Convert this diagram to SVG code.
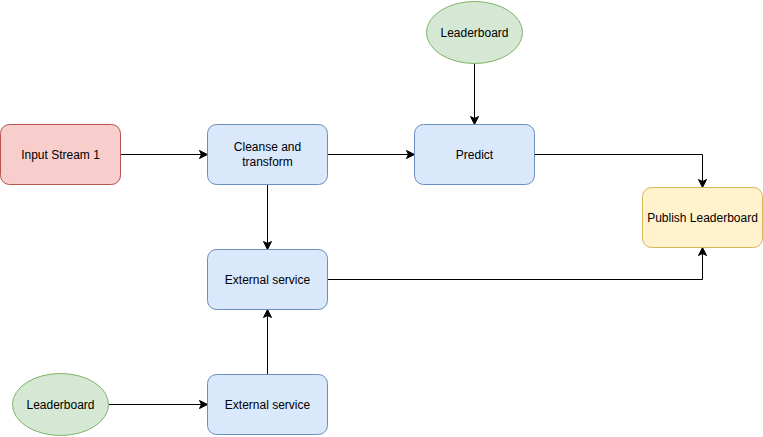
<svg xmlns="http://www.w3.org/2000/svg" width="763" height="437" viewBox="0 0 763 437">
<style>
.blue{fill:#dae8fc;stroke:#6c8ebf;stroke-width:1}
.red{fill:#f8cecc;stroke:#b85450;stroke-width:1}
.yel{fill:#fff2cc;stroke:#d6b656;stroke-width:1}
.grn{fill:#d5e8d4;stroke:#82b366;stroke-width:1}
text{font-family:"Liberation Sans",Arial,sans-serif;font-size:12px;fill:#000;text-anchor:middle;dominant-baseline:central}
.edge{fill:none;stroke:#000;stroke-width:1}
</style>
<defs>
<marker id="arr" viewBox="0 0 10 10" refX="9" refY="5" markerWidth="10" markerHeight="10" markerUnits="userSpaceOnUse" orient="auto">
<path d="M1,1 L9,5 L1,9 L3,5 Z" fill="#000" stroke="#000" stroke-width="1"/>
</marker>
</defs>
<rect width="763" height="437" fill="#fff"/>
<g id="connectors">
<path class="edge" d="M120.5,154.5 L207.5,154.5" marker-end="url(#arr)"/>
<path class="edge" d="M327.5,154.5 L414.5,154.5" marker-end="url(#arr)"/>
<path class="edge" d="M474.5,63.5 L474.5,124.5" marker-end="url(#arr)"/>
<path class="edge" d="M534.5,154.5 L702.5,154.5 L702.5,187.5" marker-end="url(#arr)"/>
<path class="edge" d="M267.5,184.5 L267.5,249.5" marker-end="url(#arr)"/>
<path class="edge" d="M327.5,279.5 L702.5,279.5 L702.5,247.5" marker-end="url(#arr)"/>
<path class="edge" d="M267.5,374.5 L267.5,309.5" marker-end="url(#arr)"/>
<path class="edge" d="M108.5,404.5 L207.5,404.5" marker-end="url(#arr)"/>
</g>
<g id="input-stream">
<rect class="red" x="0.5" y="124.5" width="120" height="60" rx="9"/>
<text x="60.5" y="154.5">Input Stream 1</text>
</g>
<g id="cleanse">
<rect class="blue" x="207.5" y="124.5" width="120" height="60" rx="9"/>
<text x="267.5" y="147">Cleanse and</text>
<text x="267.5" y="162">transform</text>
</g>
<g id="predict">
<rect class="blue" x="414.5" y="124.5" width="120" height="60" rx="9"/>
<text x="474.5" y="154.5">Predict</text>
</g>
<g id="leaderboard-top">
<ellipse class="grn" cx="474.5" cy="32.5" rx="48" ry="31"/>
<text x="474.5" y="32.5">Leaderboard</text>
</g>
<g id="publish">
<rect class="yel" x="642.5" y="187.5" width="120" height="60" rx="9"/>
<text x="702.5" y="217.5">Publish Leaderboard</text>
</g>
<g id="external-mid">
<rect class="blue" x="207.5" y="249.5" width="120" height="60" rx="9"/>
<text x="267.5" y="279.5">External service</text>
</g>
<g id="external-bottom">
<rect class="blue" x="207.5" y="374.5" width="120" height="60" rx="9"/>
<text x="267.5" y="404.5">External service</text>
</g>
<g id="leaderboard-bottom">
<ellipse class="grn" cx="60.5" cy="404.5" rx="48" ry="31"/>
<text x="60.5" y="404.5">Leaderboard</text>
</g>
</svg>
